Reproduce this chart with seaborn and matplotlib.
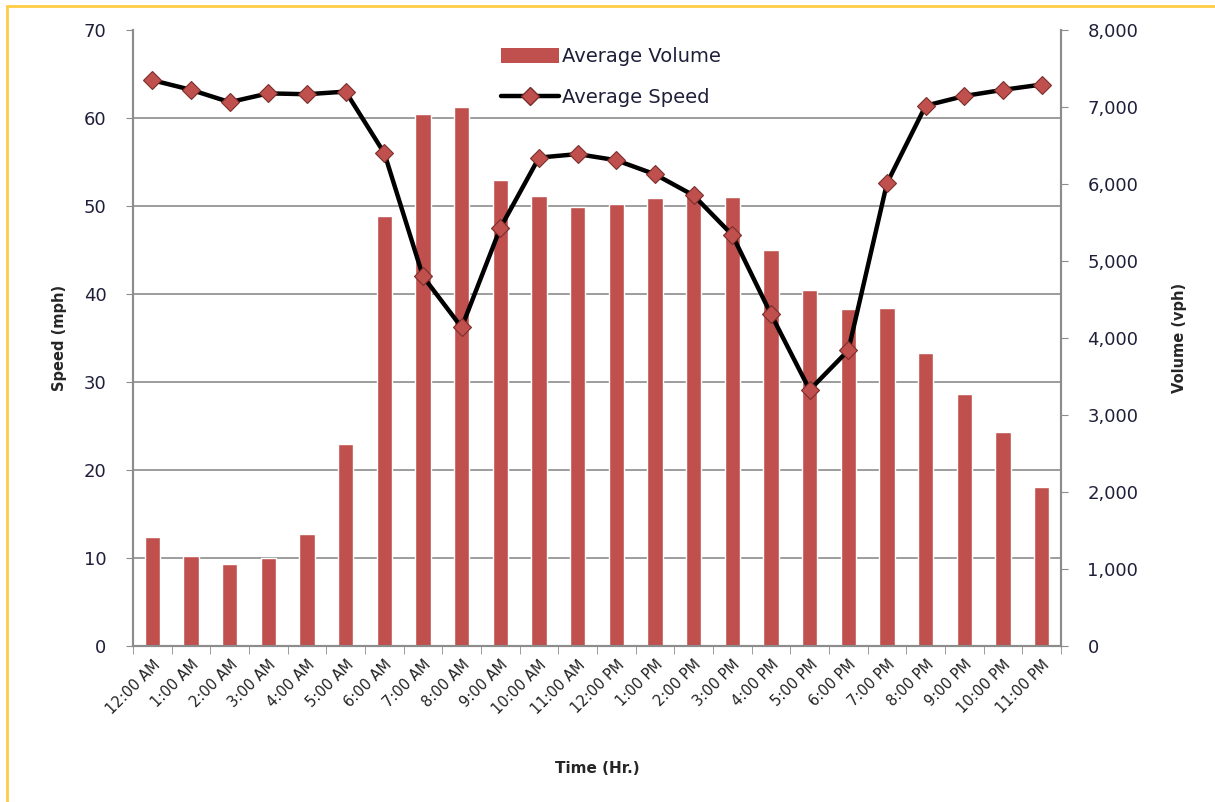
import numpy as np
import pandas as pd
import matplotlib
matplotlib.use('Agg')
import matplotlib.pyplot as plt
from matplotlib.lines import Line2D
from matplotlib.patches import Patch
import seaborn as sns

hours = ['12:00 AM', '1:00 AM', '2:00 AM', '3:00 AM', '4:00 AM', '5:00 AM',
         '6:00 AM', '7:00 AM', '8:00 AM', '9:00 AM', '10:00 AM', '11:00 AM',
         '12:00 PM', '1:00 PM', '2:00 PM', '3:00 PM', '4:00 PM', '5:00 PM',
         '6:00 PM', '7:00 PM', '8:00 PM', '9:00 PM', '10:00 PM', '11:00 PM']
avg_volume = [1420, 1170, 1065, 1140, 1450, 2620, 5580, 6910, 7000, 6050,
              5850, 5700, 5740, 5820, 5910, 5830, 5140, 4620, 4380, 4390,
              3810, 3270, 2780, 2060]
avg_speed = [64.3, 63.2, 61.8, 62.8, 62.7, 63.0, 56.0, 42.0, 36.2, 47.5,
             55.5, 55.9, 55.2, 53.6, 51.2, 46.7, 37.7, 29.1, 33.6, 52.6,
             61.4, 62.5, 63.2, 63.8]
speed_ticks = [0, 10, 20, 30, 40, 50, 60, 70]
volume_ticks = [0, 1000, 2000, 3000, 4000, 5000, 6000, 7000, 8000]

df = pd.DataFrame({'hour': hours, 'volume': avg_volume, 'speed': avg_speed})

sns.set_style('white')
plt.rcParams['font.family'] = ['DejaVu Sans']

BAR = '#c0504d'
GRID = '#8c8c8c'
TXT = '#1f1f3a'

fig = plt.figure(figsize=(12.15, 8.02), dpi=100)
ax_vol = fig.add_axes([133 / 1215, 1 - 646 / 802, (1061 - 133) / 1215, (646 - 30) / 802])
ax_spd = ax_vol.twinx()

# bars (secondary axis, on the right)
sns.barplot(data=df, x='hour', y='volume', color=BAR, width=0.39,
            saturation=1, ax=ax_vol, zorder=2)
ax_vol.set_ylim(0, 8000)
ax_vol.set_xlim(-0.5, len(hours) - 0.5)
ax_vol.yaxis.tick_right()
ax_vol.yaxis.set_label_position('right')
ax_vol.set_yticks(volume_ticks)
ax_vol.set_yticklabels([f'{v:,}' for v in volume_ticks], fontsize=13, color=TXT)
# gridlines follow the speed scale, drawn under the bars
ax_vol.set_yticks([s * 8000 / 70 for s in speed_ticks], minor=True)
ax_vol.grid(which='minor', axis='y', color=GRID, linewidth=1.2, zorder=0)
ax_vol.grid(which='major', visible=False)
ax_vol.tick_params(axis='y', which='minor', length=0)
ax_vol.tick_params(axis='y', which='major', length=5, color=GRID, pad=14, right=True, left=False)
ax_vol.set_ylabel('Volume (vph)', fontsize=10.5, fontweight='bold', labelpad=24)
ax_vol.set_axisbelow(True)

# x axis: labels at centres, tick marks between categories
ax_vol.set_xticks(range(len(hours)))
ax_vol.set_xticklabels(hours, rotation=45, ha='right', rotation_mode='anchor',
                       fontsize=10.5, color='#222222')
ax_vol.set_xticks(np.arange(-0.5, len(hours)), minor=True)
ax_vol.tick_params(axis='x', which='major', length=0, pad=8)
ax_vol.tick_params(axis='x', which='minor', length=6, color=GRID, bottom=True)
ax_vol.set_xlabel('Time (Hr.)', fontsize=11, fontweight='bold', labelpad=32)

# speed line (primary axis, on the left)
sns.lineplot(x=np.arange(len(hours)), y=df['speed'], ax=ax_spd, color='black',
             linewidth=3.2, marker='D', markersize=9, markerfacecolor=BAR,
             markeredgecolor='#7a2e2c', markeredgewidth=0.8, zorder=5)
ax_spd.set_ylim(0, 70)
ax_spd.yaxis.tick_left()
ax_spd.yaxis.set_label_position('left')
ax_spd.set_yticks(speed_ticks)
ax_spd.set_yticklabels([str(s) for s in speed_ticks], fontsize=13, color=TXT)
ax_spd.tick_params(axis='y', length=5, color=GRID, pad=14, left=True, right=False)
ax_spd.set_ylabel('Speed (mph)', fontsize=10.5, fontweight='bold', labelpad=12)
ax_spd.grid(False)

for a in (ax_vol, ax_spd):
    for side in ('left', 'right', 'bottom'):
        a.spines[side].set_visible(True)
        a.spines[side].set_color(GRID)
        a.spines[side].set_linewidth(1.5)
    a.spines['top'].set_visible(False)

handles = [Patch(facecolor=BAR, edgecolor='none'),
           Line2D([0], [0], color='black', linewidth=3.2, marker='D', markersize=9,
                  markerfacecolor=BAR, markeredgecolor='#7a2e2c')]
ax_spd.legend(handles, ['Average Volume', 'Average Speed'], loc='upper center',
              bbox_to_anchor=(0.515, 1.0), frameon=False, fontsize=14,
              handlelength=3.0, handleheight=0.8, handletextpad=0.15,
              labelspacing=1.1, labelcolor=TXT)

# yellow frame edges
fig.add_artist(Line2D([7 / 1215, 7 / 1215], [0, 1 - 6 / 802], color='#ffcc44',
                      linewidth=2, transform=fig.transFigure))
fig.add_artist(Line2D([7 / 1215, 1], [1 - 6 / 802, 1 - 6 / 802], color='#ffcc44',
                      linewidth=2, transform=fig.transFigure))

fig.savefig('out.png', dpi=100)
